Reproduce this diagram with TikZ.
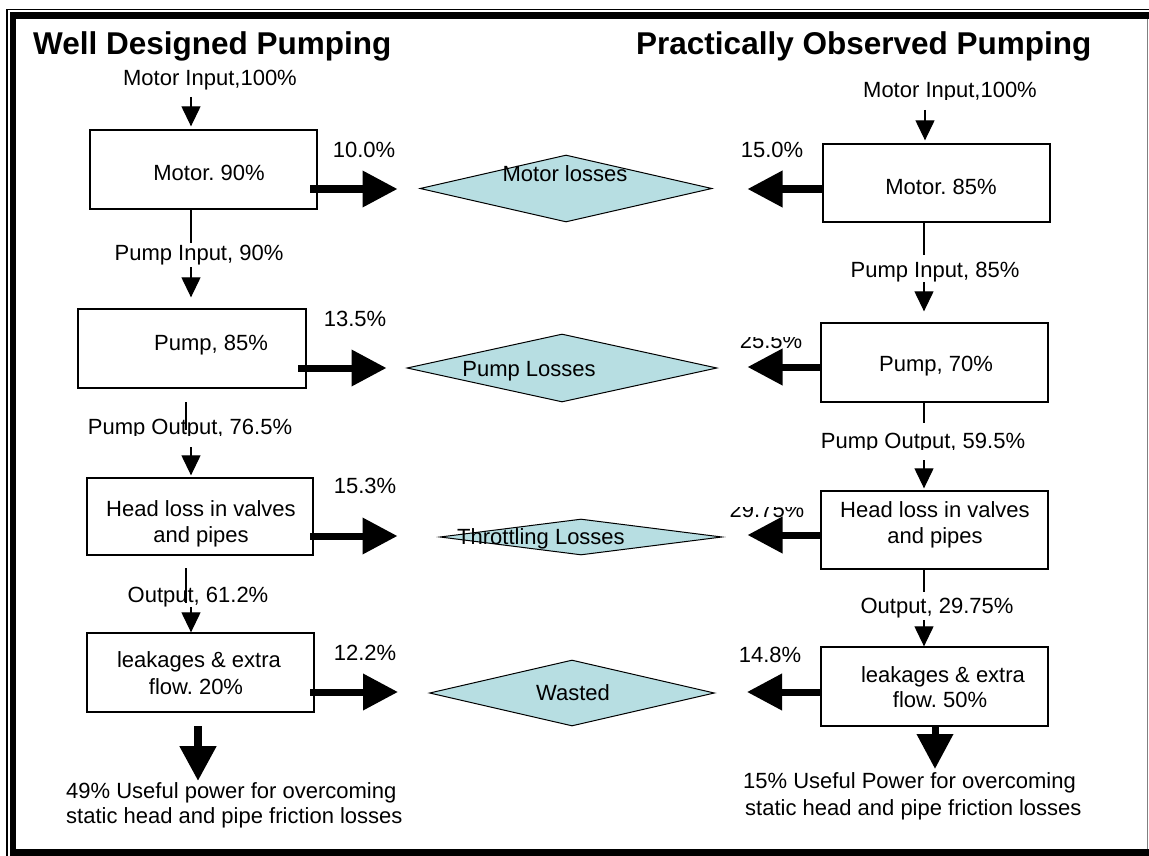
\documentclass[tikz,border=0pt]{standalone}
\usepackage{fontspec}
\setmainfont{Liberation Sans}
\usetikzlibrary{arrows.meta,shapes.geometric}
\definecolor{dfill}{RGB}{183,222,226}
\frenchspacing
\begin{document}
\begin{tikzpicture}[x=1pt,y=-1pt,
  txt/.style={font=\fontsize{22}{26}\selectfont, inner sep=0pt, anchor=base},
  ttl/.style={font=\fontsize{31.5}{36}\selectfont\bfseries, inner sep=0pt, anchor=base west},
  box/.style={draw, line width=1.3pt, inner sep=0pt, rectangle},
  dia/.style={draw, fill=dfill, line width=1pt, diamond, inner sep=0pt},
  thinarr/.style={line width=1.2pt, -{Triangle[length=20pt,width=19pt]}},
  thinline/.style={line width=1.2pt},
  thickarr/.style={line width=7pt, -{Triangle[length=35pt,width=35pt]}}]
\useasboundingbox (0,0) rectangle (1149,856);
% frame
\draw[line width=1.5pt] (7,856) -- (7,9.5) -- (1149,9.5);
\draw[line width=6.5pt] (13,856) -- (13,15.5) -- (1149,15.5);
\draw[line width=7pt] (10,852.5) -- (1149,852.5);
\draw[gray, line width=1.5pt] (1147.5,19) -- (1147.5,849);
% titles (clipped at bottom)
\begin{scope}
\clip (0,0) rectangle (1149,61);
\node[ttl] (T1) at (33,55) {Well Designed Pumping};
\node[ttl] (T2) at (636,55) {Practically Observed Pumping};
\end{scope}
% boxes
\node[box, minimum width=227pt, minimum height=79pt] (mL) at (203.5,169.5) {};
\node[box, minimum width=228pt, minimum height=79pt] (pL) at (192,348.5) {};
\node[box, minimum width=226pt, minimum height=77pt] (hL) at (200,516.5) {};
\node[box, minimum width=227pt, minimum height=79pt] (lL) at (200.5,672.5) {};
\node[box, minimum width=227pt, minimum height=78pt] (mR) at (936.5,183) {};
\node[box, minimum width=227pt, minimum height=79pt] (pR) at (934.5,362.5) {};
\node[box, minimum width=227pt, minimum height=78pt] (hR) at (934.5,530) {};
\node[box, minimum width=227pt, minimum height=79pt] (lR) at (934.5,686.5) {};
% diamonds
\node[dia, minimum width=292pt, minimum height=67pt] (d1) at (566,188.5) {};
\node[dia, minimum width=310pt, minimum height=68pt] (d2) at (562,368) {};
\node[dia, minimum width=282pt, minimum height=36pt] (d3) at (581,537) {};
\node[dia, minimum width=285pt, minimum height=66pt] (d4) at (572,693) {};
% texts left
\node[txt] (tMIL) at (210,86) {Motor Input,100\%};
\node[txt] (tmL) at (209,180) {Motor. 90\%};
\node[txt] (p10) at (364,158) {10.0\%};
\node[txt] (tPIL) at (199,260) {Pump Input, 90\%};
\node[txt] (tpL) at (211,350) {Pump, 85\%};
\node[txt] (p13) at (355,326) {13.5\%};
\begin{scope}
\clip (0,380) rectangle (420,435.5);
\node[txt] (tPOL) at (190,434) {Pump Output, 76.5\%};
\end{scope}
\node[txt] (thL1) at (201,516) {Head loss in valves};
\node[txt] (thL2) at (201,542) {and pipes};
\node[txt] (p15) at (365,493) {15.3\%};
\node[txt] (tOL) at (198,602) {Output, 61.2\%};
\node[txt] (tlL1) at (199,667) {leakages \& extra};
\node[txt] (tlL2) at (196,694) {flow. 20\%};
\node[txt] (p12) at (365,660) {12.2\%};
\node[txt, anchor=base west] (uL1) at (66,798) {49\% Useful power for overcoming};
\node[txt, anchor=base west] (uL2) at (66,823) {static head and pipe friction losses};
% texts right
\begin{scope}
\clip (700,60) rectangle (1140,99.5);
\node[txt] (tMIR) at (950,98) {Motor Input,100\%};
\end{scope}
\node[txt] (tmR) at (941,194) {Motor. 85\%};
\node[txt] (p150) at (772,158) {15.0\%};
\node[txt] (tPIR) at (935,277) {Pump Input, 85\%};
\node[txt] (tpR) at (936,371) {Pump, 70\%};
\begin{scope}
\clip (720,337) rectangle (815,360);
\node[txt] (p255) at (771,348) {25.5\%};
\end{scope}
\begin{scope}
\clip (800,420) rectangle (1060,449.5);
\node[txt] (tPOR) at (923,448) {Pump Output, 59.5\%};
\end{scope}
\node[txt] (thR1) at (935,517) {Head loss in valves};
\node[txt] (thR2) at (935,543) {and pipes};
\begin{scope}
\clip (720,507) rectangle (815,530);
\node[txt] (p2975) at (767,517) {29.75\%};
\end{scope}
\node[txt] (tOR) at (937,613) {Output, 29.75\%};
\node[txt] (p148) at (770,662) {14.8\%};
\node[txt] (tlR1) at (943,682) {leakages \& extra};
\node[txt] (tlR2) at (940,707) {flow. 50\%};
\node[txt, anchor=base west] (uR1) at (743,788) {15\% Useful Power for overcoming};
\node[txt, anchor=base west] (uR2) at (745,815) {static head and pipe friction losses};
% diamond texts
\node[txt] (dt1) at (565,182) {Motor losses};
\node[txt] (dt2) at (529,376) {Pump Losses};
\node[txt] (dt3) at (541,544) {Throttling Losses};
\node[txt] (dt4) at (573,700) {Wasted};
% thin arrows left
\coordinate (aL1) at (191,97);
\coordinate (aL2) at (191,267);
\coordinate (aL3) at (191,447);
\coordinate (aL4) at (191,607);
\draw[thinarr, shorten >=3pt] (aL1) -- (aL1 |- mL.north);
\draw[thinarr, shorten >=11pt] (aL2) -- (aL2 |- pL.north);
\draw[thinarr, shorten >=2pt] (aL3) -- (aL3 |- hL.north);
\draw[thinarr] (aL4) -- (aL4 |- lL.north);
% thin lines left
\coordinate (bL1) at (191,243);
\coordinate (bL2) at (186,402);
\coordinate (bL3) at (186,568);
\draw[thinline] (bL1 |- mL.south) -- (bL1);
\draw[thinline] (bL2) -- (186,430);
\draw[thinline] (bL3) -- (186,603);
% thin arrows right
\coordinate (aR1) at (925,110);
\coordinate (aR2) at (924,282);
\coordinate (aR3) at (924,460);
\coordinate (aR4) at (924,620);
\draw[thinarr, shorten >=3pt] (aR1) -- (aR1 |- mR.north);
\draw[thinarr, shorten >=11pt] (aR2) -- (aR2 |- pR.north);
\draw[thinarr, shorten >=2pt] (aR3) -- (aR3 |- hR.north);
\draw[thinarr] (aR4) -- (aR4 |- lR.north);
% thin lines right
\coordinate (bR1) at (924,255);
\coordinate (bR2) at (924,423);
\coordinate (bR3) at (924,592);
\draw[thinline] (bR1 |- mR.south) -- (bR1);
\draw[thinline] (bR2 |- pR.south) -- (bR2);
\draw[thinline] (bR3 |- hR.south) -- (bR3);
% thick arrows left
\coordinate (tL1) at (310,189);
\coordinate (tL2) at (298,368);
\coordinate (tL3) at (310,536);
\coordinate (tL4) at (310,692);
\draw[thickarr, shorten >=22pt] (tL1) -- (tL1 -| d1.west);
\draw[thickarr, shorten >=20pt] (tL2) -- (tL2 -| d2.west);
\draw[thickarr, shorten >=42pt] (tL3) -- (tL3 -| d3.west);
\draw[thickarr, shorten >=31pt] (tL4) -- (tL4 -| d4.west);
% thick arrows right
\draw[thickarr, shorten >=35pt] (mR.west |- 0,189) -- (d1.east |- 0,189);
\draw[thickarr, shorten >=30pt] (pR.west |- 0,367) -- (d2.east |- 0,367);
\draw[thickarr, shorten >=25pt] (hR.west |- 0,535) -- (d3.east |- 0,535);
\draw[thickarr, shorten >=32pt] (lR.west |- 0,692) -- (d4.east |- 0,692);
% thick down arrows
\coordinate (uLc) at (198,781);
\coordinate (uRc) at (935,769);
\draw[thickarr, line width=8pt] (198,726) -- (uLc);
\draw[thickarr] (uRc |- lR.south) -- (uRc);
\end{tikzpicture}
\end{document}
